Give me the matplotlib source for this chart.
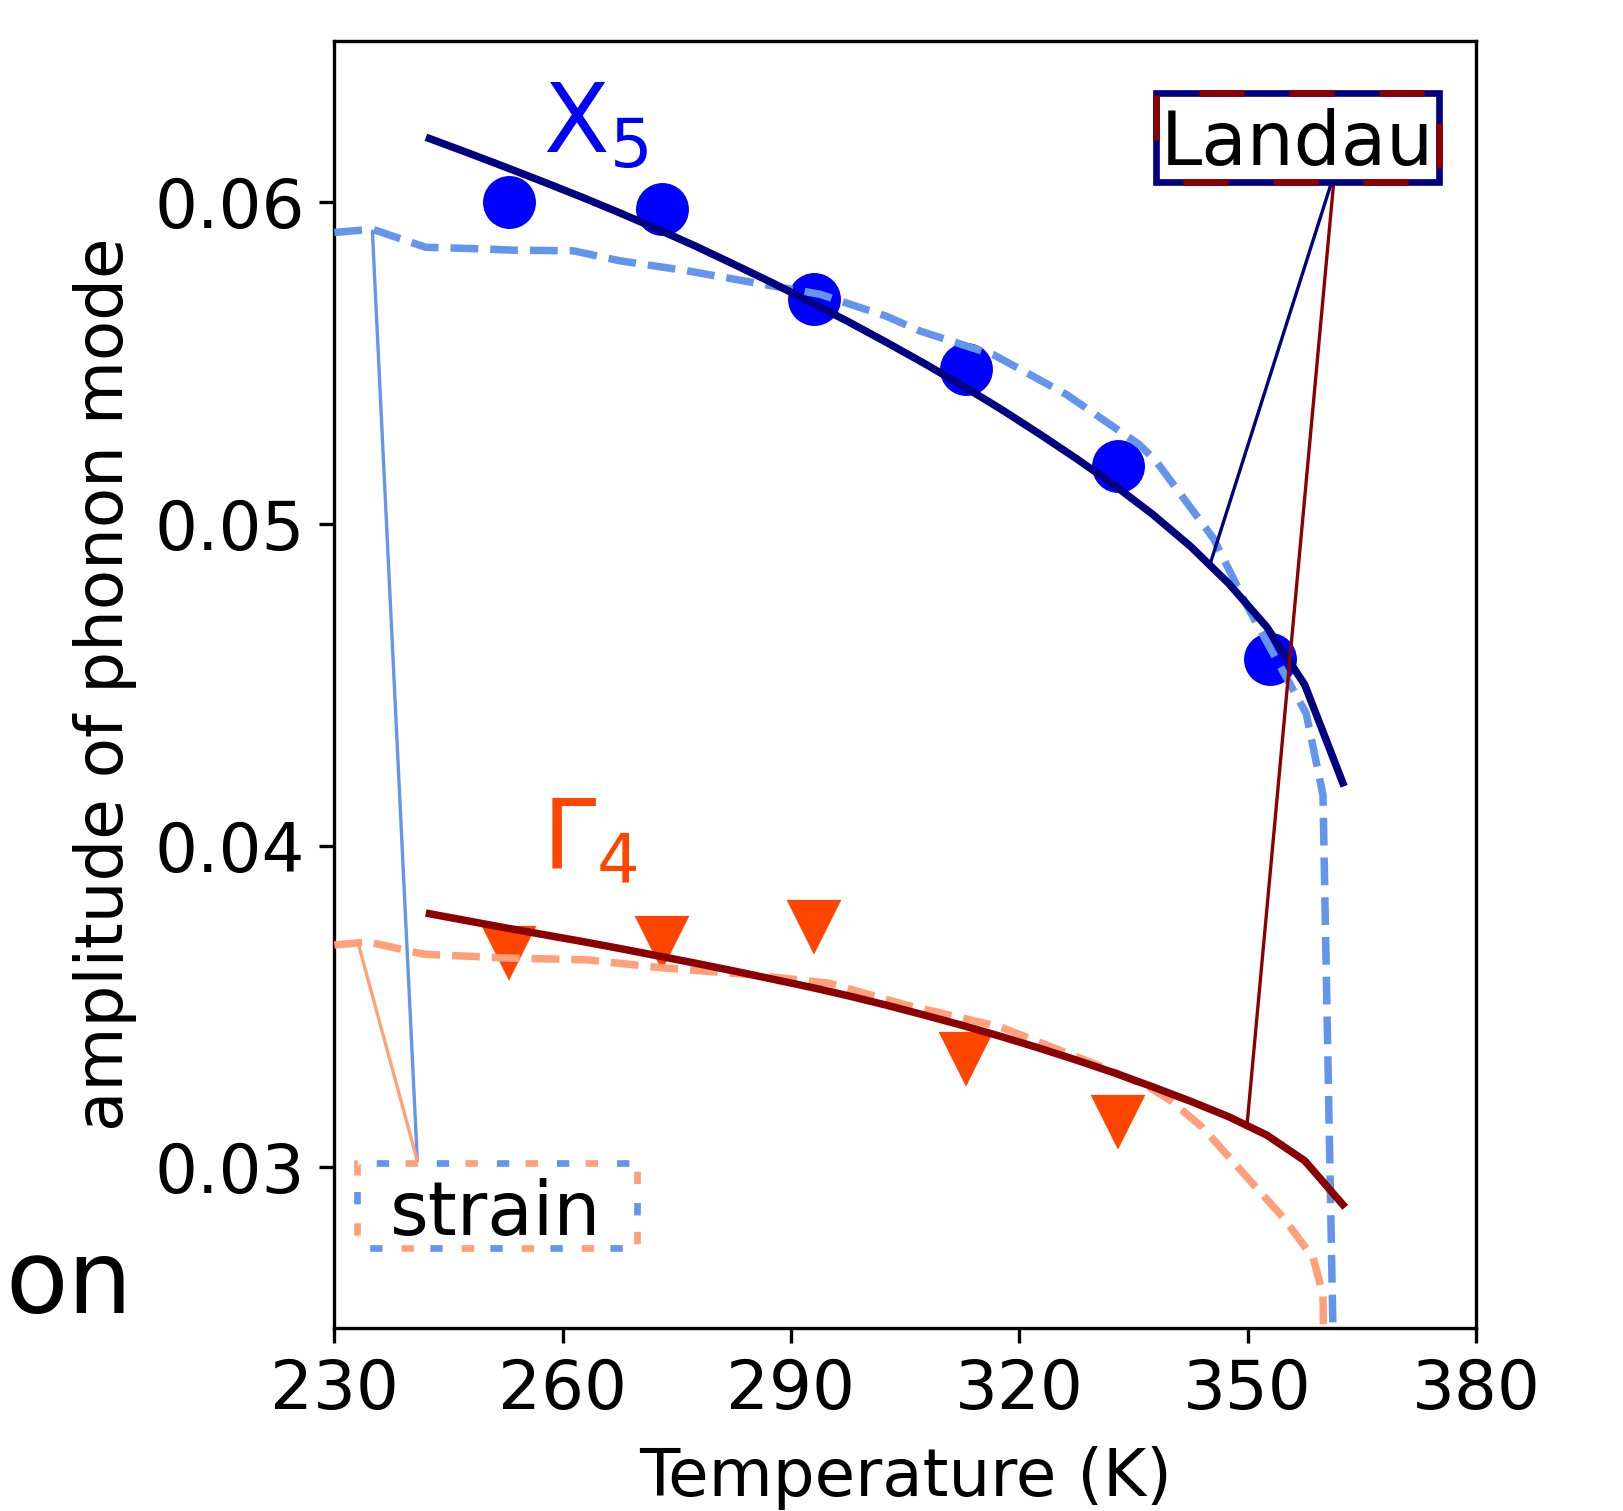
import matplotlib.pyplot as plt
from matplotlib.patches import Rectangle

# measured mode amplitudes
temp_x5 = [253, 273, 293, 313, 333, 353]
amp_x5 = [0.0600, 0.0598, 0.0570, 0.0548, 0.0518, 0.0458]
temp_g4 = [253, 273, 293, 313, 333]
amp_g4 = [0.0367, 0.0370, 0.0375, 0.0334, 0.03145]

# Landau fits
landau_T = [242.5, 247.5, 252.5, 257.5, 262.5, 267.5, 272.5, 277.5, 282.5,
            287.5, 292.5, 297.5, 302.5, 307.5, 312.5, 317.5, 322.5, 327.5,
            332.5, 337.5, 342.5, 347.5, 352.5, 357.5, 362.5]
landau_x5 = [0.06198, 0.06154, 0.06109, 0.06063, 0.06016, 0.05967, 0.05916,
             0.05863, 0.05807, 0.05750, 0.05690, 0.05629, 0.05565, 0.05499,
             0.05430, 0.05358, 0.05282, 0.05203, 0.05120, 0.05030, 0.04930,
             0.04815, 0.04680, 0.04500, 0.04195]
landau_g4 = [0.03788, 0.03766, 0.03744, 0.03723, 0.03702, 0.03680, 0.03657,
             0.03634, 0.03610, 0.03585, 0.03560, 0.03533, 0.03504, 0.03473,
             0.03441, 0.03407, 0.03371, 0.03333, 0.03293, 0.03250, 0.03205,
             0.03157, 0.03100, 0.03020, 0.02884]

# strain model curves
strain_T_x5 = [230, 235, 242, 248, 253.5, 261.4, 267.5, 276.3, 285.1, 293.8,
               302.6, 306.9, 316.6, 326.2, 335.8, 338, 345.5, 349.9, 356.4,
               357.7, 359.9, 361.6]
strain_x5 = [0.05906, 0.05916, 0.05860, 0.05856, 0.05851, 0.05849, 0.05818,
             0.05787, 0.05750, 0.05714, 0.05645, 0.05600, 0.05526, 0.05402,
             0.05246, 0.05194, 0.04955, 0.04746, 0.04466, 0.04410, 0.04157,
             0.02000]
strain_T_g4 = [230, 234.5, 241.8, 253, 263, 273, 285, 295, 305, 317.5, 330,
               337, 340, 344, 348, 351, 354.7, 358.6, 359.9, 360.3]
strain_g4 = [0.03691, 0.03700, 0.03662, 0.03650, 0.03645, 0.03620, 0.03598,
             0.03572, 0.03505, 0.03436, 0.03320, 0.03250, 0.03205, 0.03125,
             0.03020, 0.02940, 0.02843, 0.02718, 0.02604, 0.02000]

fig = plt.figure(figsize=(1623 / 300, 1511 / 300), dpi=300)
ax = fig.add_axes([0.206, 0.1211, 0.7034, 0.8515])

ax.plot(temp_x5, amp_x5, 'o', color='blue', ms=11.7, zorder=2)
ax.plot(temp_g4, amp_g4, 'v', color='orangered', ms=11.7, zorder=2)

ax.plot(strain_T_x5, strain_x5, '--', color='cornflowerblue', lw=1.8, zorder=3)
ax.plot(strain_T_g4, strain_g4, '--', color='lightsalmon', lw=1.8, zorder=3)
ax.plot(landau_T, landau_x5, '-', color='navy', lw=1.8, zorder=4)
ax.plot(landau_T, landau_g4, '-', color='darkred', lw=1.8, zorder=4)

ax.set_xlim(230, 380)
ax.set_ylim(0.025, 0.065)
ax.set_xticks([230, 260, 290, 320, 350, 380])
ax.set_yticks([0.03, 0.04, 0.05, 0.06])
ax.tick_params(labelsize=16.2)
ax.set_xlabel('Temperature (K)', fontsize=15.8, labelpad=5.5)
ax.set_ylabel('amplitude of phonon mode', fontsize=15.8)
ax.yaxis.set_label_coords(-0.173, 0.5)

# mode labels
ax.text(0.183, 0.913, 'X$_5$', color='blue', fontsize=23,
        transform=ax.transAxes, va='baseline')
ax.text(0.1815, 0.3576, r'$\Gamma_4$', color='orangered', fontsize=23,
        transform=ax.transAxes, va='baseline')

# annotation lines
ax.annotate('', xy=(345.0, 0.0487), xytext=(361.0, 0.0606),
            arrowprops=dict(arrowstyle='-', color='navy', lw=0.8,
                            shrinkA=0, shrinkB=0), zorder=5)
ax.annotate('', xy=(349.9, 0.03126), xytext=(361.3, 0.0606),
            arrowprops=dict(arrowstyle='-', color='darkred', lw=0.8,
                            shrinkA=0, shrinkB=0), zorder=5)
ax.annotate('', xy=(235.0, 0.0591), xytext=(240.9, 0.0302),
            arrowprops=dict(arrowstyle='-', color='cornflowerblue', lw=0.8,
                            shrinkA=0, shrinkB=0), zorder=5)
ax.annotate('', xy=(233.2, 0.0369), xytext=(240.9, 0.0302),
            arrowprops=dict(arrowstyle='-', color='lightsalmon', lw=0.8,
                            shrinkA=0, shrinkB=0), zorder=5)

# Landau box: navy with dark red dashes
x0, y0, w, h = 0.720, 0.891, 0.2474, 0.0687
ax.add_patch(Rectangle((x0, y0), w, h, transform=ax.transAxes, fc='white',
                       ec='navy', lw=1.6, zorder=6, clip_on=False))
ax.add_patch(Rectangle((x0, y0), w, h, transform=ax.transAxes, fill=False,
                       ec='darkred', lw=1.6, ls=(9.45, (6.75, 6.75)),
                       zorder=7, clip_on=False))
ax.text(0.8437, 0.904, 'Landau', fontsize=17.8, ha='center', va='baseline',
        transform=ax.transAxes, zorder=8)

# strain box: blue and salmon dashes
x0, y0, w, h = 0.0195, 0.0625, 0.2454, 0.0660
ax.add_patch(Rectangle((x0, y0), w, h, transform=ax.transAxes, fc='white',
                       ec='none', zorder=6))
ax.add_patch(Rectangle((x0, y0), w, h, transform=ax.transAxes, fill=False,
                       ec='cornflowerblue', lw=1.6, ls=(7.1, (1.85, 7.16)),
                       zorder=7))
ax.add_patch(Rectangle((x0, y0), w, h, transform=ax.transAxes, fill=False,
                       ec='lightsalmon', lw=1.6, ls=(2.4, (1.85, 7.16)),
                       zorder=7))
ax.text(0.1415, 0.0723, 'strain', fontsize=17.8, ha='center', va='baseline',
        transform=ax.transAxes, zorder=8)

fig.text(0.0815, 0.131, 'on', fontsize=24.5, ha='right', va='baseline')

fig.savefig('out.png', dpi=300)
